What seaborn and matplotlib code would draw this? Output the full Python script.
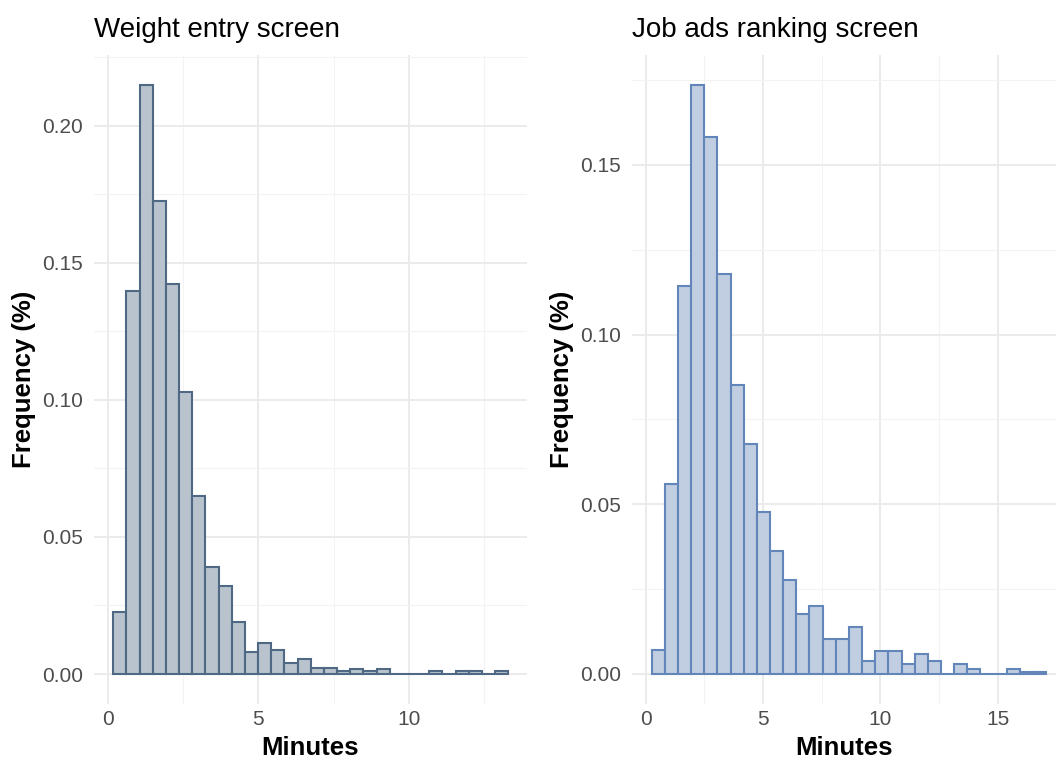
import numpy as np
import matplotlib
matplotlib.use("Agg")
import matplotlib.pyplot as plt
from matplotlib.ticker import MultipleLocator, FormatStrFormatter
import seaborn as sns

# left panel: weight entry screen (share of users per 30 bins)
weight_range = (0.185, 13.3)
weight_freq = [0.0225, 0.1396, 0.2150, 0.1726, 0.1421, 0.1027, 0.0649, 0.0391,
               0.0320, 0.0190, 0.0080, 0.0113, 0.0088, 0.0040, 0.0055, 0.0023,
               0.0023, 0.0010, 0.0017, 0.0010, 0.0017, 0.0, 0.0, 0.0,
               0.0010, 0.0, 0.0010, 0.0010, 0.0, 0.0010]

# right panel: job ads ranking screen
jobs_range = (0.255, 17.06)
jobs_freq = [0.0072, 0.0559, 0.1142, 0.1737, 0.1583, 0.1179, 0.0853, 0.0677,
             0.0478, 0.0361, 0.0278, 0.0177, 0.0199, 0.0102, 0.0102, 0.0139,
             0.0037, 0.0068, 0.0068, 0.0028, 0.0059, 0.0037, 0.0, 0.0028,
             0.0015, 0.0, 0.0, 0.0015, 0.0007, 0.0007]

titles = ["Weight entry screen", "Job ads ranking screen"]
x_major = [5, 5]
y_major = [0.05, 0.05]

sns.set_style("white")
plt.rcParams["font.family"] = ["Liberation Sans", "DejaVu Sans"]
plt.rcParams["text.color"] = "black"
plt.rcParams["axes.labelcolor"] = "black"

fig = plt.figure(figsize=(10.56, 7.62), dpi=100)
ax1 = fig.add_axes([94.3 / 1056, 1 - 703.5 / 762, 432.4 / 1056, 648.5 / 762])
ax2 = fig.add_axes([632.3 / 1056, 1 - 703.5 / 762, 423.7 / 1056, 648.5 / 762])

panels = [
    (ax1, weight_freq, weight_range, "#b8c3cd", "#4f6984", (-0.445, 13.91), (-0.01075, 0.2258)),
    (ax2, jobs_freq, jobs_range, "#c1cee1", "#6286b9", (-0.57, 17.48), (-0.0087, 0.1824)),
]

for i, (ax, freq, rng, fill, edge, xlim, ylim) in enumerate(panels):
    n = len(freq)
    edges = np.linspace(rng[0], rng[1], n + 1)
    centers = (edges[:-1] + edges[1:]) / 2
    sns.histplot(x=centers, weights=freq, bins=n, binrange=rng, ax=ax,
                 color=fill, edgecolor=edge, linewidth=1.5, alpha=1, zorder=3)
    ax.set_xlim(*xlim)
    ax.set_ylim(*ylim)
    ax.xaxis.set_major_locator(MultipleLocator(x_major[i]))
    ax.xaxis.set_minor_locator(MultipleLocator(x_major[i] / 2))
    ax.yaxis.set_major_locator(MultipleLocator(y_major[i]))
    ax.yaxis.set_minor_locator(MultipleLocator(y_major[i] / 2))
    ax.yaxis.set_major_formatter(FormatStrFormatter("%.2f"))
    ax.grid(which="major", color="#ebebeb", linewidth=1.4, zorder=0)
    ax.grid(which="minor", color="#f3f3f3", linewidth=0.8, zorder=0)
    ax.set_axisbelow(True)
    for s in ax.spines.values():
        s.set_visible(False)
    ax.tick_params(which="both", length=0, labelsize=15, labelcolor="#4d4d4d")
    ax.tick_params(axis="y", pad=8)
    ax.tick_params(axis="x", pad=5)
    ax.set_xlabel("Minutes", fontsize=18.5, fontweight="bold", labelpad=5)
    ax.set_ylabel("Frequency (%)", fontsize=18.5, fontweight="bold", labelpad=4.5)
    ax.set_title(titles[i], loc="left", fontsize=20, pad=13)

fig.savefig("out.png", dpi=100)
